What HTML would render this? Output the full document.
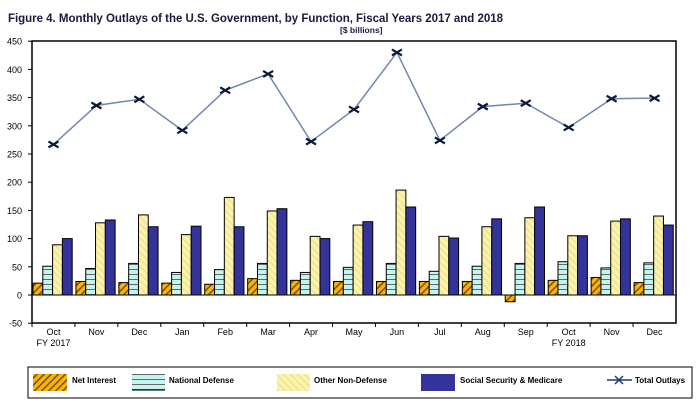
<!DOCTYPE html>
<html><head><meta charset="utf-8"><style>
body{margin:0;background:#fff;width:700px;height:411px;overflow:hidden}
text{font-family:"Liberation Sans",Arial,sans-serif}
</style></head><body>
<svg id="c" width="700" height="411" xmlns="http://www.w3.org/2000/svg">
<defs>
<pattern id="pNI" width="5" height="5" patternUnits="userSpaceOnUse" patternTransform="rotate(45)">
<rect width="5" height="5" fill="#f5b800"/><rect width="1.6" height="5" fill="#8a4a10"/></pattern>
<pattern id="pND" width="6" height="5" patternUnits="userSpaceOnUse">
<rect width="6" height="5" fill="#c4f4f0"/><rect y="4" width="6" height="1" fill="#666"/></pattern>
<pattern id="pOT" width="5" height="5" patternUnits="userSpaceOnUse" patternTransform="rotate(-45)">
<rect width="5" height="5" fill="#fbf5a0"/><rect width="1.2" height="5" fill="#e8d8b8"/></pattern>
</defs>
<text x="8" y="22" font-size="11.5" font-weight="bold" fill="#1a1a40" textLength="495">Figure 4. Monthly Outlays of the U.S. Government, by Function,  Fiscal Years 2017 and 2018</text>
<text x="340" y="33" font-size="8.5" font-weight="bold" fill="#1a1a40">[$ billions]</text>
<g id="g"></g>
<rect x="28" y="367" width="664" height="31" fill="none" stroke="#000" stroke-width="1"/>
<rect x="33" y="374" width="34" height="17" fill="url(#pNI)"/>
<text x="72" y="383" font-size="8" font-weight="bold">Net Interest</text>
<rect x="132" y="374" width="33" height="17" fill="url(#pND)"/>
<line x1="132" y1="390" x2="165" y2="390" stroke="#000"/>
<text x="169" y="383" font-size="8" font-weight="bold">National Defense</text>
<rect x="277" y="374" width="33" height="17" fill="url(#pOT)"/>
<text x="314" y="383" font-size="8" font-weight="bold">Other Non-Defense</text>
<rect x="421" y="374" width="34" height="17" fill="#333399"/>
<text x="460" y="383" font-size="8" font-weight="bold">Social Security &amp; Medicare</text>
<line x1="607" y1="380" x2="632" y2="380" stroke="#1f3a7a" stroke-width="1.5"/>
<path d="M615 376L623 384M623 376L615 384" stroke="#1f3a7a" stroke-width="1.5"/>
<text x="635" y="383" font-size="8" font-weight="bold">Total Outlays</text>
</svg>
<script>
var g=document.getElementById('g'),ns='http://www.w3.org/2000/svg';
function el(t,a){var e=document.createElementNS(ns,t);for(var k in a)e.setAttribute(k,a[k]);g.appendChild(e);return e;}
var L=32,R=676,T=41,B=323;function Y(v){return 295-v*0.564;}
var cw=(R-L)/15;
var tot=[267,336,347,292,363,392,272,329,430,274,334,340,297,348,349];
var ni=[21,24,22,21,19,29,26,24,24,24,24,-12,26,31,22];
var nd=[51,47,56,40,45,56,40,49,56,42,51,56,59,48,57];
var ot=[89,128,142,107,173,149,104,124,186,104,121,137,105,131,140];
var ss=[100,133,121,122,121,153,100,130,156,101,135,156,105,135,124];
var mo=['Oct','Nov','Dec','Jan','Feb','Mar','Apr','May','Jun','Jul','Aug','Sep','Oct','Nov','Dec'];
for(var v=-50;v<=450;v+=50){var y=Y(v);el('line',{x1:L-4,y1:y,x2:L,y2:y,stroke:'#000'});
var t=el('text',{x:L-10,y:y+3.5,'font-size':9,'text-anchor':'end'});t.textContent=v;}
var fills=['url(#pNI)','url(#pND)','url(#pOT)','#333399'],ds=[ni,nd,ot,ss],bw=9.8;
for(var i=0;i<15;i++){var x0=L+i*cw+1;
for(var s=0;s<4;s++){var v=ds[s][i],y1=Y(Math.max(v,0)),y2=Y(Math.min(v,0));
el('rect',{x:x0+s*bw,y:y1,width:bw,height:y2-y1,fill:fills[s],stroke:'#000','stroke-width':1});}
el('line',{x1:L+i*cw,y1:B,x2:L+i*cw,y2:B+4,stroke:'#000'});
var t=el('text',{x:L+(i+0.5)*cw,y:B+12,'font-size':9,'text-anchor':'middle'});t.textContent=mo[i];}
el('line',{x1:L,y1:Y(0),x2:R,y2:Y(0),stroke:'#000'});
var t=el('text',{x:L+0.5*cw,y:B+23,'font-size':9,'text-anchor':'middle'});t.textContent='FY 2017';
t=el('text',{x:L+12.5*cw,y:B+23,'font-size':9,'text-anchor':'middle'});t.textContent='FY 2018';
var pts=tot.map(function(v,i){return (L+(i+0.5)*cw)+','+Y(v);}).join(' ');
el('polyline',{points:pts,fill:'none',stroke:'#7088b0','stroke-width':1.5});
tot.forEach(function(v,i){var x=L+(i+0.5)*cw,y=Y(v);
el('path',{d:'M'+(x-5)+' '+(y-3)+'L'+(x+5)+' '+(y+3)+'M'+(x+5)+' '+(y-3)+'L'+(x-5)+' '+(y+3),stroke:'#0a1a3a','stroke-width':2.2});});
el('rect',{x:L,y:T,width:R-L,height:B-T,fill:'none',stroke:'#000','stroke-width':1.5});
</script>
</body></html>
